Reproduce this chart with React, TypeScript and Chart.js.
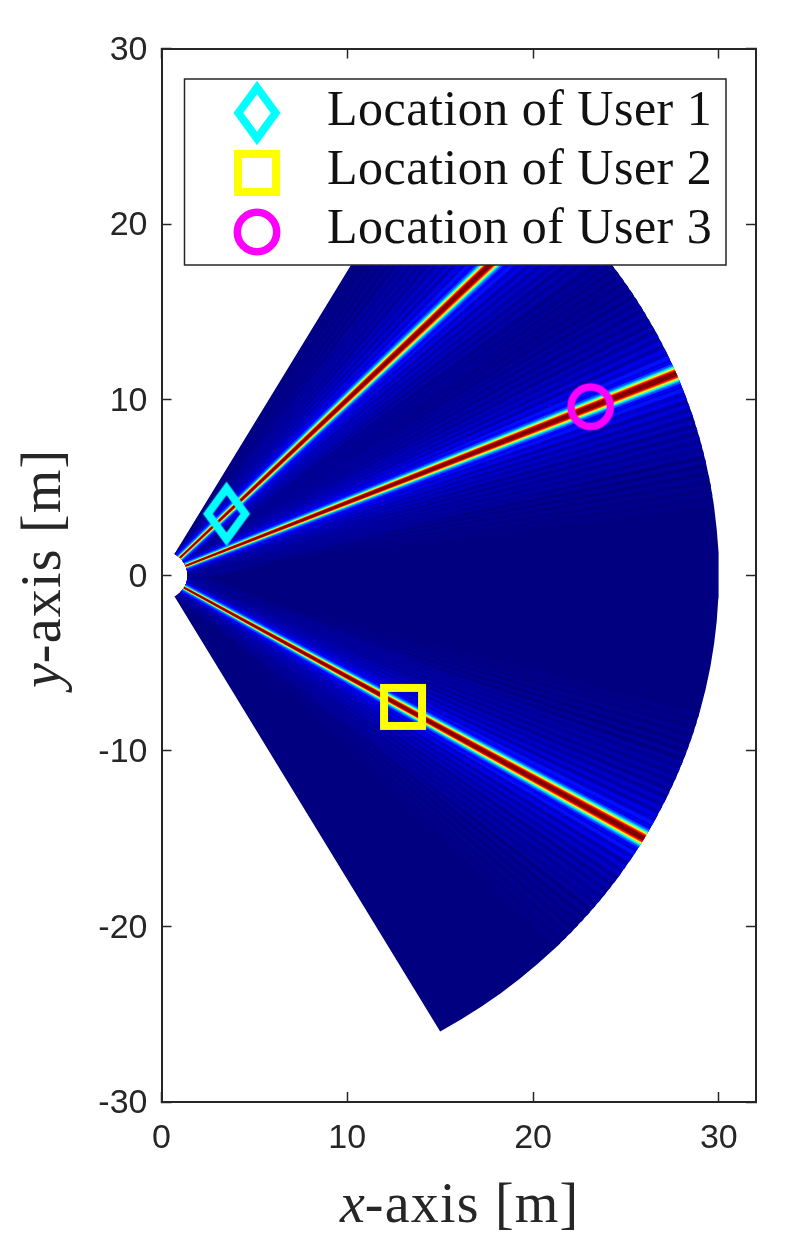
import { useEffect, useRef } from 'react';
import Chart from 'chart.js/auto';

const USER_LABELS = ['Location of User 1', 'Location of User 2', 'Location of User 3'];
const USER_X = [3.5, 13, 23.1];
const USER_Y = [3.5, -7.5, 9.6];
const TITLE_X = ['x', '-axis [m]'];
const TITLE_Y = ['y', '-axis [m]'];

// fan outline, metres and degrees
const INNER_RADIUS = 1.4;
const OUTER_RADIUS = 30;
const OUTLINE_ANGLES = [
  -60, -57.5, -55, -52.5, -50, -47.5, -45, -42.5, -40, -37.5, -35, -32.5, -30, -27.5, -25, -22.5, -20, -17.5, -15, -12.5, -10, -7.5, -5, -2.5, 0,
  2.5, 5, 7.5, 10, 12.5, 15, 17.5, 20, 22.5, 25, 27.5, 30, 32.5, 35, 37.5, 40, 42.5, 45, 47.5, 50, 52.5, 55, 57.5, 60,
];

const BEAM_ANGLES = [45, 22.5, -30];

// main lobe, outermost band first; half widths in degrees at the far and near end
const LOBE_LEVELS = [0.02, 0.04, 0.07, 0.125, 0.2, 0.3, 0.375, 0.5, 0.625, 0.75, 0.875, 1];
const LOBE_FAR = [9, 5, 2.6, 1.5, 1.15, 0.95, 0.82, 0.72, 0.62, 0.52, 0.42, 0.28];
const LOBE_NEAR = [40, 26, 18, 14, 9, 6.5, 5, 4.3, 3.5, 2.9, 2.3, 1.6];

// streaks either side of a beam
const STREAK_OFFSETS = [1.9, 2.8, 3.7, 4.6, 5.5, 6.4, 7.3, 8.2, 9.1, 10, 10.9, 11.8, 12.7, 13.6, 14.5];
const STREAK_LEVELS = [0.14, 0.105, 0.085, 0.07, 0.06, 0.05, 0.045, 0.04, 0.035, 0.03, 0.025, 0.02, 0.017, 0.014, 0.01];

const INK = '#262626';
const PLOT = { left: 161.5, right: 756, top: 48.5, bottom: 1102 };

function jet(level: number) {
  const ch = (v: number) => Math.round(255 * Math.max(0, Math.min(1, v)));
  const r = 1.5 - Math.abs(4 * level - 3);
  const g = 1.5 - Math.abs(4 * level - 2);
  const b = 1.5 - Math.abs(4 * level - 1);
  return `rgb(${ch(r)},${ch(g)},${ch(b)})`;
}

function polar(r: number, deg: number) {
  const a = (deg * Math.PI) / 180;
  return { x: r * Math.cos(a), y: r * Math.sin(a) };
}

const clampAngle = (deg: number) => Math.max(-60, Math.min(60, deg));

function fanShape(data: { x: number; y: number }[], level: number) {
  return {
    type: 'scatter' as const,
    data,
    showLine: true,
    fill: 'shape',
    tension: 0,
    borderWidth: 0,
    borderColor: 'transparent',
    backgroundColor: jet(level),
    pointRadius: 0,
  };
}

function wedge(lowNear: number, highNear: number, lowFar: number, highFar: number) {
  const low = clampAngle(lowNear);
  const high = clampAngle(highNear);
  // follow the inner circle so wide bands do not cut across the notch
  const innerArc = OUTLINE_ANGLES.filter((a) => a > low && a < high).reverse();
  return [
    polar(INNER_RADIUS, low),
    polar(OUTER_RADIUS, clampAngle(lowFar)),
    polar(OUTER_RADIUS, clampAngle(highFar)),
    polar(INNER_RADIUS, high),
    ...innerArc.map((a) => polar(INNER_RADIUS, a)),
    polar(INNER_RADIUS, low),
  ];
}

function makeMarker(kind: 'diamond' | 'square' | 'circle') {
  const canvas = document.createElement('canvas');
  canvas.width = 56;
  canvas.height = 72;
  const ctx = canvas.getContext('2d')!;
  const cx = 28;
  const cy = 36;
  ctx.lineJoin = 'miter';
  ctx.beginPath();
  if (kind === 'diamond') {
    ctx.strokeStyle = '#00ffff';
    ctx.lineWidth = 8;
    ctx.moveTo(cx, cy - 25.4);
    ctx.lineTo(cx + 18.6, cy);
    ctx.lineTo(cx, cy + 25.4);
    ctx.lineTo(cx - 18.6, cy);
    ctx.closePath();
  } else if (kind === 'square') {
    ctx.strokeStyle = '#ffff00';
    ctx.lineWidth = 8;
    ctx.rect(cx - 19, cy - 19, 38, 38);
  } else {
    ctx.strokeStyle = '#ff00ff';
    ctx.lineWidth = 7.5;
    ctx.arc(cx, cy, 19.7, 0, Math.PI * 2);
  }
  ctx.stroke();
  return canvas;
}

function drawMixedTitle(ctx: CanvasRenderingContext2D, parts: string[], x: number, y: number) {
  ctx.textAlign = 'left';
  ctx.textBaseline = 'alphabetic';
  ctx.fillStyle = INK;
  ctx.font = 'italic 56px "Liberation Serif"';
  ctx.fillText(parts[0], x, y);
  const w = ctx.measureText(parts[0]).width;
  ctx.font = '56px "Liberation Serif"';
  (ctx as any).letterSpacing = '1.2px';
  ctx.fillText(parts[1], x + w, y);
  (ctx as any).letterSpacing = '0px';
}

export default function App() {
  const canvasRef = useRef<HTMLCanvasElement | null>(null);

  useEffect(() => {
    const canvas = canvasRef.current;
    if (!canvas) return;

    const markers = [makeMarker('diamond'), makeMarker('square'), makeMarker('circle')];

    const outline = [
      ...OUTLINE_ANGLES.map((a) => polar(OUTER_RADIUS, a)),
      ...[...OUTLINE_ANGLES].reverse().map((a) => polar(INNER_RADIUS, a)),
      polar(OUTER_RADIUS, OUTLINE_ANGLES[0]),
    ];

    // paint order, back to front; chart.js draws the first dataset on top so this gets reversed
    const painted: any[] = [fanShape(outline, 0)];
    for (const beam of BEAM_ANGLES) {
      LOBE_LEVELS.slice(0, 3).forEach((level, i) => {
        painted.push(fanShape(wedge(beam - LOBE_NEAR[i], beam + LOBE_NEAR[i], beam - LOBE_FAR[i], beam + LOBE_FAR[i]), level));
      });
    }
    for (const beam of BEAM_ANGLES) {
      STREAK_OFFSETS.forEach((offset, i) => {
        for (const side of [-1, 1]) {
          const low = beam + side * offset - 0.22;
          const high = beam + side * offset + 0.22;
          painted.push(fanShape(wedge(low, high, low, high), STREAK_LEVELS[i]));
        }
      });
    }
    for (const beam of BEAM_ANGLES) {
      LOBE_LEVELS.slice(3).forEach((level, j) => {
        const i = j + 3;
        painted.push(fanShape(wedge(beam - LOBE_NEAR[i], beam + LOBE_NEAR[i], beam - LOBE_FAR[i], beam + LOBE_FAR[i]), level));
      });
    }

    const userPoints = USER_LABELS.map((label, i) => ({
      type: 'scatter' as const,
      label,
      data: [{ x: USER_X[i], y: USER_Y[i] }],
      pointStyle: markers[i],
      pointRadius: 24,
      showLine: false,
    }));

    const overlayPlugin = {
      id: 'overlay',
      afterDatasetsDraw(chart: Chart) {
        const ctx = chart.ctx;
        ctx.save();
        // legend panel
        ctx.fillStyle = '#ffffff';
        ctx.strokeStyle = INK;
        ctx.lineWidth = 1.5;
        ctx.fillRect(184.5, 79, 541.5, 186);
        ctx.strokeRect(184.5, 79, 541.5, 186);
        const rows = [125, 184, 243];
        const centers = [113, 173, 232];
        USER_LABELS.forEach((label, i) => {
          ctx.drawImage(markers[i], 257 - 28, centers[i] - 36);
          ctx.font = '50px "Liberation Serif"';
          ctx.fillStyle = '#111111';
          ctx.textAlign = 'left';
          ctx.textBaseline = 'alphabetic';
          (ctx as any).letterSpacing = '0.5px';
          ctx.fillText(label, 327, rows[i]);
          (ctx as any).letterSpacing = '0px';
        });
        drawMixedTitle(ctx, TITLE_X, 340, 1222);
        ctx.translate(60, 688);
        ctx.rotate(-Math.PI / 2);
        drawMixedTitle(ctx, TITLE_Y, 0, 0);
        ctx.restore();
      },
    };

    const tickFont = { family: '"Liberation Sans"', size: 34 };
    const frame = { display: true, color: INK, width: 2 };
    const inwardTicks = { drawOnChartArea: false, drawTicks: true, tickLength: -10, tickWidth: 1.5, tickColor: INK };

    const chart = new Chart(canvas, {
      type: 'scatter',
      data: { datasets: [...userPoints, ...painted.reverse()] },
      options: {
        animation: false,
        responsive: false,
        devicePixelRatio: 1,
        layout: { padding: 0 },
        plugins: { legend: { display: false }, tooltip: { enabled: false } },
        scales: {
          x: {
            type: 'linear',
            position: 'bottom',
            min: 0,
            max: 32,
            border: frame,
            grid: inwardTicks,
            ticks: { stepSize: 10, includeBounds: false, autoSkip: false, color: INK, font: tickFont, padding: 26, maxRotation: 0 },
            afterFit: (s: any) => {
              s.height = 1256 - PLOT.bottom;
            },
          },
          y: {
            type: 'linear',
            position: 'left',
            min: -30,
            max: 30,
            border: frame,
            grid: inwardTicks,
            ticks: { stepSize: 10, autoSkip: false, color: INK, font: tickFont, padding: 24, labelOffset: 2 },
            afterFit: (s: any) => {
              s.width = PLOT.left;
            },
          },
          xTop: {
            type: 'linear',
            position: 'top',
            min: 0,
            max: 32,
            border: frame,
            grid: inwardTicks,
            ticks: { stepSize: 10, includeBounds: false, autoSkip: false, display: false },
            afterFit: (s: any) => {
              s.height = PLOT.top;
            },
          },
          yRight: {
            type: 'linear',
            position: 'right',
            min: -30,
            max: 30,
            border: frame,
            grid: inwardTicks,
            ticks: { stepSize: 10, autoSkip: false, display: false },
            afterFit: (s: any) => {
              s.width = 797 - PLOT.right;
            },
          },
        },
      } as any,
      plugins: [overlayPlugin],
    });

    return () => chart.destroy();
  }, []);

  return (
    <div style={{ position: 'absolute', left: 0, top: 0, width: 797, height: 1256, background: '#fff' }}>
      <canvas ref={canvasRef} width={797} height={1256} style={{ display: 'block', filter: 'blur(0.5px)' }} />
    </div>
  );
}
